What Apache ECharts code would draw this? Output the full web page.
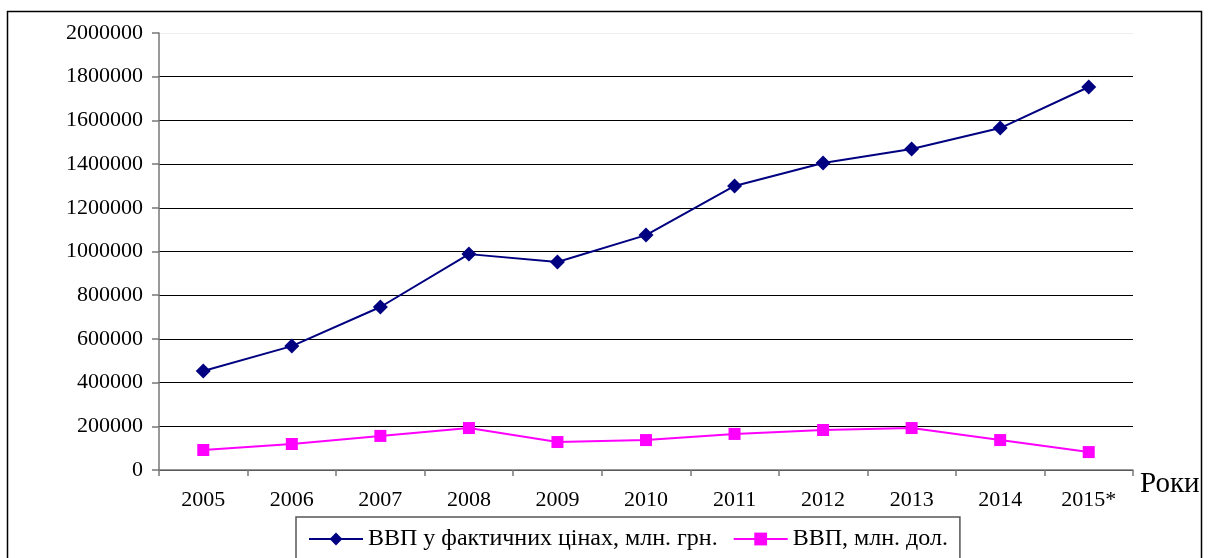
<!DOCTYPE html>
<html><head><meta charset="utf-8">
<script src="https://cdn.jsdelivr.net/npm/echarts@6/dist/echarts.min.js"></script>
<style>html,body{margin:0;padding:0;background:#fff}#c{width:1208px;height:558px}</style>
</head><body><div id="c"></div>
<script>
const years = ['2005','2006','2007','2008','2009','2010','2011','2012','2013','2014','2015*'];
const gdpUah = [453000,567000,746000,988000,952000,1075000,1300000,1405000,1469000,1565000,1753000];
const gdpUsd = [91500,119000,156000,192000,128000,137000,165000,183000,192000,137000,82000];
const seriesNames = ['ВВП у фактичних цінах, млн. грн.','ВВП, млн. дол.'];
const font = 'Liberation Serif, Times New Roman, serif';
const chart = echarts.init(document.getElementById('c'));
const splitColors = ['#000','#000','#000','#000','#000','#000','#000','#000','#000','#000','#eee'];
chart.setOption({
  animation:false,
  graphic:[{type:'rect',shape:{x:7.5,y:11.5,width:1194,height:560},style:{fill:'none',stroke:'#000',lineWidth:1.5},silent:true}],
  grid:{left:159,right:75,top:33,bottom:88,containLabel:false},
  legend:{left:296,top:517,data:seriesNames,itemWidth:54,itemHeight:16,itemGap:15,
    padding:[10,12,16,12],borderColor:'#555',borderWidth:1.5,
    textStyle:{fontFamily:font,fontSize:24,color:'#000'}},
  xAxis:{type:'category',data:years,boundaryGap:true,
    axisLine:{lineStyle:{color:'#777',width:1.5}},
    axisTick:{show:true,interval:0,length:6,lineStyle:{color:'#777',width:1.5}},
    axisLabel:{fontFamily:font,fontSize:22,color:'#000',margin:19,interval:0},
    name:'Роки',nameLocation:'end',nameGap:7,
    nameTextStyle:{fontFamily:font,fontSize:29,color:'#000',verticalAlign:'top',padding:[0,0,0,0]}},
  yAxis:{type:'value',min:0,max:2000000,interval:200000,
    axisLine:{show:true,lineStyle:{color:'#777',width:1.5}},
    axisTick:{show:true,length:7,lineStyle:{color:'#777',width:1.5}},
    axisLabel:{fontFamily:font,fontSize:22,color:'#000',margin:16,formatter:v=>String(v)},
    splitLine:{show:true,lineStyle:{color:splitColors,width:1}}},
  series:[
    {name:seriesNames[0],type:'line',data:gdpUah,symbol:'diamond',symbolSize:15,
      itemStyle:{color:'#000080'},lineStyle:{color:'#000080',width:2}},
    {name:seriesNames[1],type:'line',data:gdpUsd,symbol:'rect',symbolSize:12,
      itemStyle:{color:'#ff00ff'},lineStyle:{color:'#ff00ff',width:2}}
  ]
});
</script></body></html>
